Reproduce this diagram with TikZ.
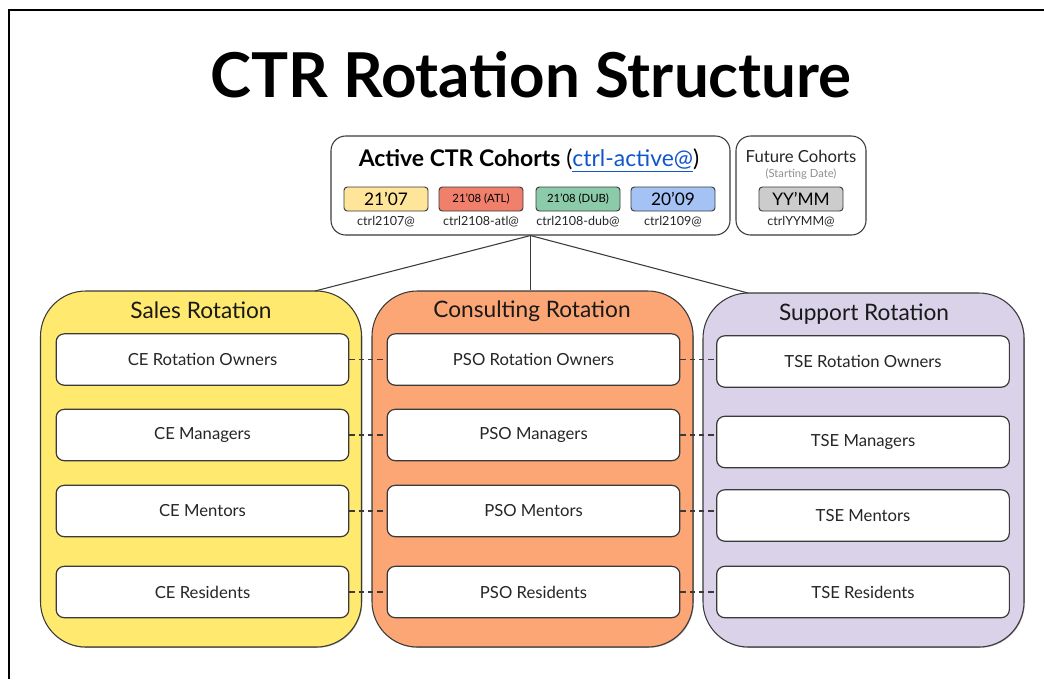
\documentclass[tikz,border=0pt]{standalone}
\usepackage{fontspec}
\setmainfont{Lato}
\usetikzlibrary{shadows}
\definecolor{salesfill}{HTML}{FFE96E}
\definecolor{consultfill}{HTML}{FCA676}
\definecolor{supportfill}{HTML}{D9D2E9}
\definecolor{chipyellow}{HTML}{FFE599}
\definecolor{chipred}{HTML}{F0806B}
\definecolor{chipgreen}{HTML}{8CCBA9}
\definecolor{chipblue}{HTML}{A4C2F4}
\definecolor{chipgray}{HTML}{CCCCCC}
\definecolor{edge}{HTML}{3A3A3A}
\definecolor{linkblue}{HTML}{1155CC}
\definecolor{subgray}{HTML}{8F8F8F}
\tikzset{
  fs/.style={font=\fontsize{#1}{#1}\selectfont},
  cohortbox/.style={draw=edge, line width=0.8pt, fill=white, rounded corners=11pt, inner sep=0pt},
  chip/.style={draw=edge, line width=0.7pt, rounded corners=2.5pt, minimum width=63pt, minimum height=18pt, inner sep=0pt},
  chiplabel/.style={fs=9.4, text=black!85},
  panel/.style={draw=edge, line width=0.8pt, rounded corners=34pt, inner sep=0pt,
    minimum width=240.75pt, minimum height=267pt,
    drop shadow={shadow xshift=0.6pt, shadow yshift=-0.6pt, opacity=0.35, fill=black}},
  rolebox/.style={draw=edge, line width=0.9pt, fill=white, rounded corners=6pt, inner sep=0pt,
    minimum width=219.5pt, minimum height=38.5pt, fs=12.5, text=black!85},
  paneltitle/.style={fs=17, text=black!90},
  linkdash/.style={dashed, dash pattern=on 4pt off 3pt, draw=edge, line width=0.8pt},
  tree/.style={draw=edge, line width=0.8pt}
}
\begin{document}
\begin{tikzpicture}[x=0.75pt,y=-0.75pt]
\useasboundingbox (0,0) rectangle (1044,679);
\draw[line width=1.8pt, black] (9,679) -- (9,10) -- (1044,10);

\node[font=\fontsize{46.4}{46.4}\selectfont\bfseries] (title) at (531,75) {CTR Rotation Structure};

% Active cohorts
\node[cohortbox, minimum width=299.25pt, minimum height=74.25pt] (active) at (530.5,185.5) {};
\node[fs=17.2] (activetitle) at (529,160) {\textbf{Active CTR Cohorts} (\textcolor{linkblue}{\underline{ctrl-active@}})};
\node[chip, fill=chipyellow, fs=13] (k1) at (386,199) {21’07};
\node[chip, fill=chipred, fs=8.5] (k2) at (481,199) {21’08 (ATL)};
\node[chip, fill=chipgreen, fs=8.5] (k3) at (578,199) {21’08 (DUB)};
\node[chip, fill=chipblue, fs=13] (k4) at (673,199) {20’09};
\node[chiplabel] (m1) at (386,222) {ctrl2107@};
\node[chiplabel] (m2) at (481,222) {ctrl2108-atl@};
\node[chiplabel] (m3) at (578,222) {ctrl2108-dub@};
\node[chiplabel] (m4) at (673,222) {ctrl2109@};

% Future cohorts
\node[cohortbox, minimum width=97.5pt, minimum height=74.25pt] (future) at (801,185.5) {};
\node[fs=12.5, text=black!85] (futuretitle) at (801,156) {Future Cohorts};
\node[fs=8.4, text=subgray] (futuresub) at (801,174) {(Starting Date)};
\node[chip, fill=chipgray, fs=13] (k5) at (801,199) {YY’MM};
\node[chiplabel] (m5) at (801,222) {ctrlYYMM@};

% Panels
\node[panel, fill=salesfill] (sales) at (201,469) {};
\node[panel, fill=consultfill] (consult) at (532.5,469) {};
\node[panel, fill=supportfill, minimum height=265.5pt] (support) at (863.5,470) {};
\node[paneltitle] (salest) at (201,310) {Sales Rotation};
\node[paneltitle] (consultt) at (532,311) {Consulting Rotation};
\node[paneltitle] (supportt) at (864,314) {Support Rotation};

% Sales roles
\node[rolebox] (s1) at (202.5,359.5) {CE Rotation Owners};
\node[rolebox] (s2) at (202.5,435) {CE Managers};
\node[rolebox] (s3) at (202.5,511) {CE Mentors};
\node[rolebox] (s4) at (202.5,592) {CE Residents};
% Consulting roles
\node[rolebox] (p1) at (533.5,359.5) {PSO Rotation Owners};
\node[rolebox] (p2) at (533.5,435) {PSO Managers};
\node[rolebox] (p3) at (533.5,511) {PSO Mentors};
\node[rolebox] (p4) at (533.5,592) {PSO Residents};
% Support roles
\node[rolebox] (t1) at (863,361.5) {TSE Rotation Owners};
\node[rolebox] (t2) at (863,442) {TSE Managers};
\node[rolebox] (t3) at (863,515.5) {TSE Mentors};
\node[rolebox] (t4) at (863,592) {TSE Residents};

% Tree connectors
\coordinate (salesjoin) at (315,291);
\coordinate (supportjoin) at (748,293);
\draw[tree] (active.south) -- (salesjoin);
\draw[tree] (active.south) -- (active.south |- consult.north);
\draw[tree] (active.south) -- (supportjoin);

% Dashed links
\foreach \i in {1,2,3,4}{
  \draw[linkdash] (s\i.east) -- (p\i.west);
  \draw[linkdash] (p\i.east) -- (p\i.east -| t\i.west);
}
\end{tikzpicture}
\end{document}
